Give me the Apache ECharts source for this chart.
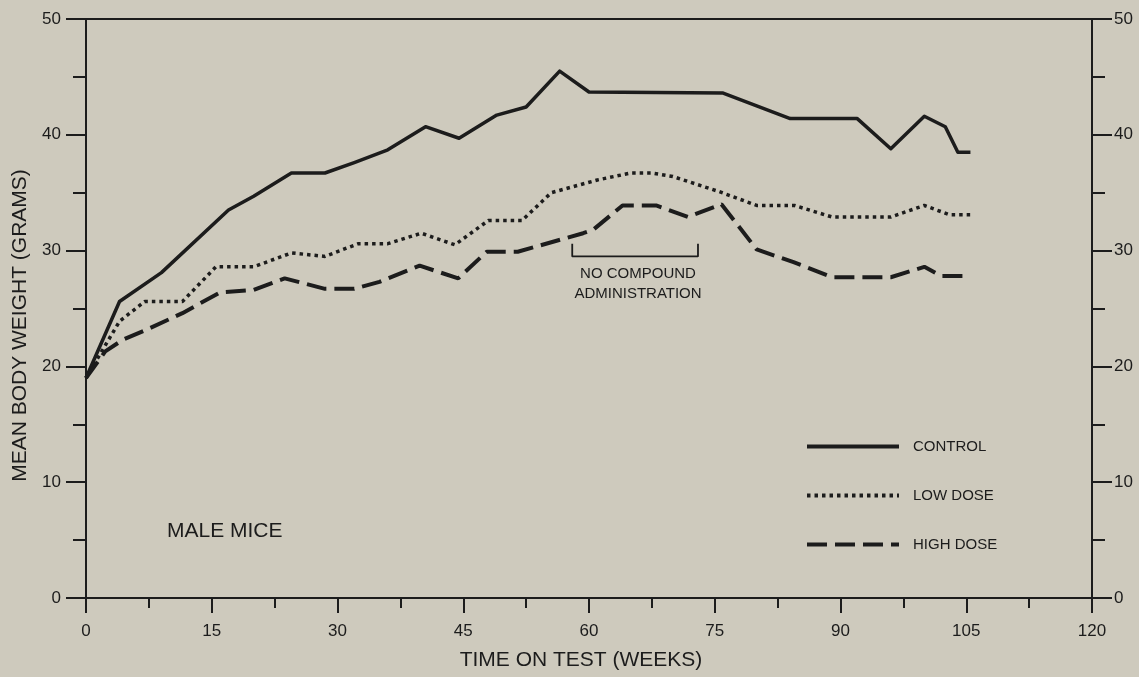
<!DOCTYPE html>
<html>
<head>
<meta charset="utf-8">
<script src="https://cdn.jsdelivr.net/npm/echarts@6/dist/echarts.min.js"></script>
<style>
html,body{margin:0;padding:0;background:#cecabd;}
#chart{width:1139px;height:677px;}
</style>
</head>
<body>
<div id="chart"></div>
<script>
// ---- data ----
const xTicks = [0, 15, 30, 45, 60, 75, 90, 105, 120];
const yTicks = [0, 10, 20, 30, 40, 50];

const controlWeeks = [0, 4, 9, 17, 20, 24.5, 28.5, 32, 36, 40.5, 44.5, 49, 52.5, 56.5, 60, 76, 84, 92, 96, 100, 102.5, 104, 105.5];
const controlWeight = [19, 25.6, 28.1, 33.5, 34.7, 36.7, 36.7, 37.6, 38.7, 40.7, 39.7, 41.7, 42.4, 45.5, 43.7, 43.6, 41.4, 41.4, 38.8, 41.6, 40.7, 38.5, 38.5];

const lowWeeks = [0, 4, 7, 11.5, 15.5, 20, 24.5, 28.5, 32.5, 36, 40, 44, 48, 52, 55.5, 58, 61, 65, 67.5, 70, 75.5, 80, 84.5, 89, 96, 100, 103, 105.5];
const lowWeight = [19, 23.9, 25.6, 25.6, 28.6, 28.6, 29.8, 29.5, 30.6, 30.6, 31.5, 30.5, 32.6, 32.6, 35.0, 35.5, 36.1, 36.7, 36.7, 36.4, 35.1, 33.9, 33.9, 32.9, 32.9, 33.9, 33.1, 33.1];

const highWeeks = [0, 2.3, 4.4, 7, 11.5, 16, 20, 23.7, 28.5, 32, 35, 39.8, 44.4, 47.8, 51.5, 59.3, 60.5, 64, 68, 71.8, 75.8, 80, 84.4, 89, 96, 100, 102, 105.5];
const highWeight = [19, 21.3, 22.3, 23.1, 24.6, 26.4, 26.6, 27.6, 26.7, 26.7, 27.3, 28.7, 27.6, 29.9, 29.9, 31.5, 31.8, 33.9, 33.9, 32.9, 34.0, 30.1, 29.0, 27.7, 27.7, 28.6, 27.8, 27.8];

// bracket marking the period without compound administration (weeks, grams)
const bracketWeeks = [58, 58, 73, 73];
const bracketWeight = [30.6, 29.5, 29.5, 30.6];

const seriesNames = ['CONTROL', 'LOW DOSE', 'HIGH DOSE'];
const annotationText = 'NO COMPOUND\nADMINISTRATION';
const panelText = 'MALE MICE';

// ---- chart ----
const ink = '#1c1c1c';
const font = '"Liberation Sans", Arial, Helvetica, sans-serif';
const zip = (xs, ys) => xs.map((x, i) => [x, ys[i]]);

const chart = echarts.init(document.getElementById('chart'), null, {renderer: 'canvas'});

const yAxisCommon = {
  type: 'value', min: 0, max: 50, interval: 10,
  axisLine: {show: true, lineStyle: {color: ink, width: 2}},
  axisTick: {show: true, inside: false, length: 20, lineStyle: {color: ink, width: 2}},
  minorTick: {show: true, splitNumber: 2, length: 13, lineStyle: {color: ink, width: 2}},
  splitLine: {show: false},
  axisLabel: {color: ink, fontSize: 17, fontFamily: font,
    formatter: v => yTicks.includes(v) ? String(v) : ''}
};

chart.setOption({
  animation: false,
  backgroundColor: '#cecabd',
  grid: {left: 86, right: 47, top: 19, bottom: 79, show: true, borderColor: ink, borderWidth: 2, backgroundColor: 'transparent'},
  xAxis: {
    type: 'value', min: 0, max: 120, interval: 15,
    name: 'TIME ON TEST (WEEKS)', nameLocation: 'middle', nameGap: 52,
    nameTextStyle: {color: ink, fontSize: 21, fontFamily: font, padding: [0, 16, 0, 0]},
    axisLine: {show: true, lineStyle: {color: ink, width: 2}},
    axisTick: {show: true, inside: false, length: 15, lineStyle: {color: ink, width: 2}},
    minorTick: {show: true, splitNumber: 2, length: 10, lineStyle: {color: ink, width: 2}},
    splitLine: {show: false},
    axisLabel: {color: ink, fontSize: 17, fontFamily: font, margin: 25,
      formatter: v => xTicks.includes(v) ? String(v) : ''}
  },
  yAxis: [
    Object.assign({}, yAxisCommon, {
      position: 'left',
      name: 'MEAN BODY WEIGHT (GRAMS)', nameLocation: 'middle', nameGap: 54,
      nameTextStyle: {color: ink, fontSize: 21, fontFamily: font, padding: [0, 34, 0, 0]},
      axisLabel: Object.assign({}, yAxisCommon.axisLabel, {margin: 25})
    }),
    Object.assign({}, yAxisCommon, {
      position: 'right',
      axisLabel: Object.assign({}, yAxisCommon.axisLabel, {margin: 22})
    })
  ],
  legend: {
    data: seriesNames,
    orient: 'vertical',
    left: 805, top: 439, padding: 0,
    itemWidth: 92, itemHeight: 14, itemGap: 34,
    itemStyle: {opacity: 0},
    lineStyle: {width: 4},
    textStyle: {color: ink, fontSize: 15, fontFamily: font, padding: [0, 0, 0, 9]},
    selectedMode: false
  },
  graphic: [
    {type: 'text', left: 167, top: 521, style: {text: panelText, fill: ink, font: '21px ' + font}},
    {type: 'text', x: 638, y: 284, style: {text: annotationText, fill: ink, font: '15px ' + font, align: 'center', verticalAlign: 'middle', lineHeight: 20}}
  ],
  series: [
    {
      name: seriesNames[0], type: 'line', data: zip(controlWeeks, controlWeight),
      showSymbol: false, symbol: 'none',
      lineStyle: {color: ink, width: 3.5, type: 'solid', join: 'round'},
      itemStyle: {color: ink}
    },
    {
      name: seriesNames[1], type: 'line', data: zip(lowWeeks, lowWeight),
      showSymbol: false, symbol: 'none',
      lineStyle: {color: ink, width: 3.5, type: [3.5, 4], cap: 'butt'},
      itemStyle: {color: ink}
    },
    {
      name: seriesNames[2], type: 'line', data: zip(highWeeks, highWeight),
      showSymbol: false, symbol: 'none',
      lineStyle: {color: ink, width: 4, type: [20, 8], cap: 'butt'},
      itemStyle: {color: ink}
    },
    {
      name: 'bracket', type: 'line', data: zip(bracketWeeks, bracketWeight),
      showSymbol: false, symbol: 'none', silent: true,
      lineStyle: {color: ink, width: 1.8}
    }
  ]
});
</script>
</body>
</html>
